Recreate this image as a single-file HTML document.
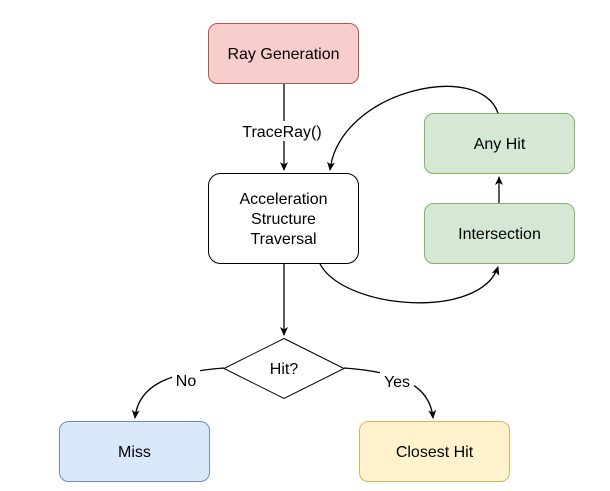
<!DOCTYPE html>
<html><head><style>body{margin:0;background:#fff}svg{display:block}text{font-family:"Liberation Sans",Arial,sans-serif;font-size:16px;fill:#000}</style></head><body>
<svg width="610" height="491" viewBox="0 0 610 491" xmlns="http://www.w3.org/2000/svg">
<defs><marker id="a" markerWidth="10" markerHeight="10" refX="8" refY="5" orient="auto" markerUnits="userSpaceOnUse"><path d="M0,1 L9,5 L0,9 L2.5,5 Z" fill="#000"/></marker></defs>
<rect x="208.5" y="23.5" width="150" height="60" rx="9" fill="#f8cecc" stroke="#b85450"/>
<text x="283.5" y="59" text-anchor="middle">Ray Generation</text>
<rect x="208.5" y="173.5" width="150" height="90" rx="12" fill="#fff" stroke="#000"/>
<text x="283.5" y="204" text-anchor="middle">Acceleration</text>
<text x="283.5" y="224" text-anchor="middle">Structure</text>
<text x="283.5" y="244" text-anchor="middle">Traversal</text>
<rect x="424.5" y="113.5" width="150" height="60" rx="9" fill="#d5e8d4" stroke="#82b366"/>
<text x="499.5" y="149" text-anchor="middle">Any Hit</text>
<rect x="424.5" y="203.5" width="150" height="60" rx="9" fill="#d5e8d4" stroke="#82b366"/>
<text x="499.5" y="239" text-anchor="middle">Intersection</text>
<path d="M284,338.5 L344,368.5 L284,398.5 L224,368.5 Z" fill="#fff" stroke="#000"/>
<text x="284" y="374" text-anchor="middle">Hit?</text>
<rect x="59.5" y="421.5" width="150" height="60" rx="9" fill="#dae8fc" stroke="#6c8ebf"/>
<text x="134.5" y="457" text-anchor="middle">Miss</text>
<rect x="359.5" y="421.5" width="150" height="60" rx="9" fill="#fff2cc" stroke="#d6b656"/>
<text x="434.5" y="457" text-anchor="middle">Closest Hit</text>
<g fill="none" stroke="#000" stroke-width="1.3">
<path d="M284,84 L284,170" marker-end="url(#a)"/>
<path d="M284,264 L284,335" marker-end="url(#a)"/>
<path d="M320,264 C345,310 480,320 498,267" marker-end="url(#a)"/>
<path d="M499,203 L499,177" marker-end="url(#a)"/>
<path d="M498,113 C480,60 340,90 330,170" marker-end="url(#a)"/>
<path d="M224,368 C170,372 138,385 135,418" marker-end="url(#a)"/>
<path d="M344,368 C400,372 430,385 433,418" marker-end="url(#a)"/>
</g>
<rect x="236" y="121" width="92" height="20" fill="#fff"/>
<text x="282" y="137" text-anchor="middle">TraceRay()</text>
<rect x="172" y="370" width="28" height="20" fill="#fff"/>
<text x="186" y="386" text-anchor="middle">No</text>
<rect x="380" y="371" width="34" height="20" fill="#fff"/>
<text x="397" y="387" text-anchor="middle">Yes</text>
</svg>
</body></html>
